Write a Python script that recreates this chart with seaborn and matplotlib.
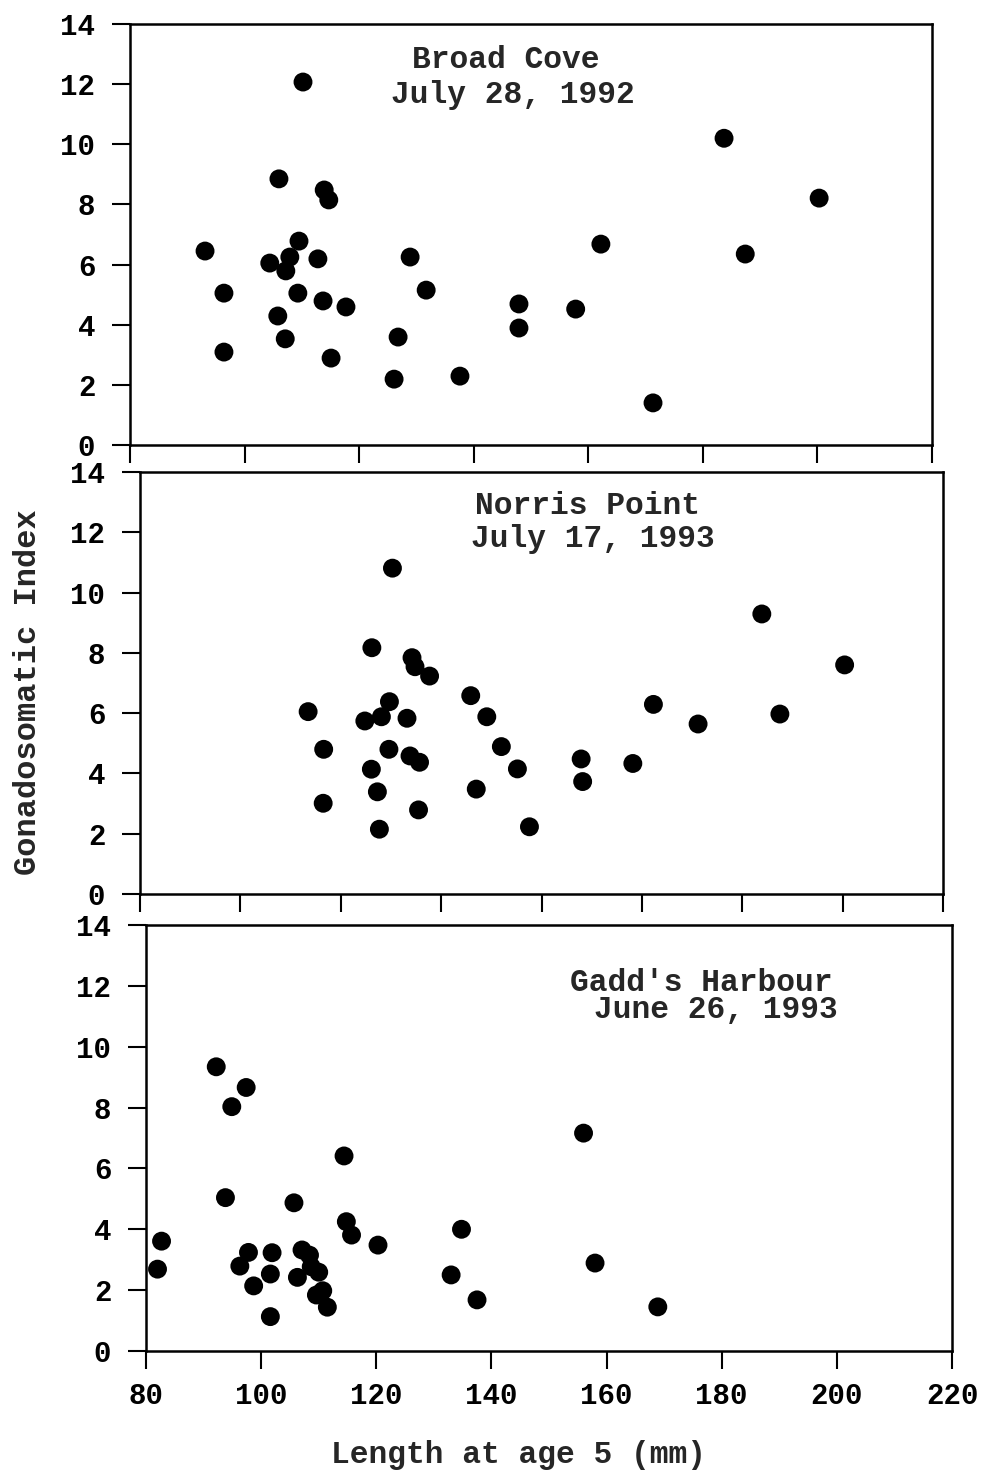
import pandas as pd
import seaborn as sns
import matplotlib.pyplot as plt

# Broad Cove, July 28, 1992
bc_len = [93.1, 96.4, 96.4, 106.0, 110.2, 104.4, 107.9, 107.2, 109.5, 112.8,
          113.9, 114.7, 109.3, 113.7, 117.7, 105.8, 107.1, 115.1, 128.9, 131.7,
          126.8, 126.1, 137.6, 147.9, 147.9, 157.8, 162.2, 171.3, 183.7, 187.4,
          200.3]
bc_gsi = [6.45, 5.05, 3.09, 8.85, 12.07, 6.05, 6.25, 5.79, 6.78, 6.19,
          8.48, 8.15, 5.05, 4.79, 4.59, 4.29, 3.53, 2.89, 6.25, 5.15,
          3.59, 2.19, 2.29, 4.69, 3.89, 4.52, 6.68, 1.40, 10.2, 6.35,
          8.21]

# Norris Point, July 17, 1993
np_len = [113.5, 116.6, 116.5, 130.3, 126.2, 134.2, 134.8, 137.7, 129.7, 124.8,
          128.1, 133.2, 129.6, 133.8, 135.7, 126.1, 127.3, 135.5, 127.7, 145.9,
          147.0, 149.1, 152.0, 155.2, 157.6, 167.9, 168.2, 178.2, 182.3, 191.2,
          203.9, 207.5, 220.4]
np_gsi = [6.05, 4.80, 3.01, 10.81, 8.17, 7.84, 7.54, 7.23, 6.38, 5.74,
          5.88, 5.83, 4.80, 4.58, 4.37, 4.14, 3.39, 2.79, 2.15, 6.58,
          3.48, 5.88, 4.89, 4.15, 2.23, 4.48, 3.73, 4.33, 6.29, 5.64,
          9.29, 5.97, 7.60]

# Gadd's Harbour, June 26, 1993
gh_len = [82.0, 82.7, 92.2, 94.9, 97.4, 93.8, 97.8, 96.3, 98.7, 101.9,
          101.6, 101.6, 105.7, 106.3, 107.1, 108.4, 108.7, 110.0, 109.6, 110.7,
          111.5, 114.4, 114.8, 115.7, 120.3, 133.0, 134.8, 137.5, 156.0, 158.0,
          168.9]
gh_gsi = [2.69, 3.61, 9.34, 8.03, 8.66, 5.04, 3.24, 2.79, 2.14, 3.23,
          2.53, 1.13, 4.87, 2.42, 3.32, 3.15, 2.77, 2.59, 1.84, 1.98,
          1.44, 6.41, 4.25, 3.81, 3.48, 2.50, 4.0, 1.68, 7.16, 2.89,
          1.45]

y_ticks = [0, 2, 4, 6, 8, 10, 12, 14]
x_ticks_short = [80, 100, 120, 140, 160, 180, 200, 220]
x_ticks_long = [80, 100, 120, 140, 160, 180, 200, 220, 240]

sns.set_style('ticks')
plt.rcParams['font.family'] = ['Liberation Mono', 'DejaVu Sans']
plt.rcParams['font.weight'] = 'bold'

W, H = 988, 1473
fig = plt.figure(figsize=(W / 100, H / 100), dpi=100)


def panel(left, right, top, bottom):
    # position given in pixels of the final picture
    return fig.add_axes([left / W, 1 - bottom / H, (right - left) / W, (bottom - top) / H])


panels = [
    (panel(130, 932, 24, 445), bc_len, bc_gsi, x_ticks_short, False),
    (panel(140, 943, 472, 894), np_len, np_gsi, x_ticks_long, False),
    (panel(146, 952, 925, 1351), gh_len, gh_gsi, x_ticks_short, True),
]

for ax, xs, ys, xt, show_x in panels:
    df = pd.DataFrame({'len': xs, 'gsi': ys})
    sns.scatterplot(data=df, x='len', y='gsi', ax=ax, color='black', s=185,
                    edgecolor='none', legend=False)
    ax.set_xlim(xt[0], xt[-1])
    ax.set_ylim(0, 14)
    ax.set_xticks(xt)
    ax.set_yticks(y_ticks)
    ax.set_xlabel('')
    ax.set_ylabel('')
    for sp in ax.spines.values():
        sp.set_linewidth(1.8)
        sp.set_color('black')
    ax.tick_params(axis='both', direction='out', length=13, width=1.5,
                   labelsize=21, colors='black')
    ax.tick_params(axis='y', pad=12)
    ax.tick_params(axis='x', pad=9)
    if not show_x:
        ax.set_xticklabels([])

# panel titles
fs = 22.5
fig.text(506 / W, 1 - 60 / H, 'Broad Cove', ha='center', va='center', fontsize=fs, fontweight='bold')
fig.text(513 / W, 1 - 95 / H, 'July 28, 1992', ha='center', va='center', fontsize=fs, fontweight='bold')
fig.text(587 / W, 1 - 506 / H, 'Norris Point', ha='center', va='center', fontsize=fs, fontweight='bold')
fig.text(593 / W, 1 - 539 / H, 'July 17, 1993', ha='center', va='center', fontsize=fs, fontweight='bold')
fig.text(701 / W, 1 - 983 / H, "Gadd's Harbour", ha='center', va='center', fontsize=fs, fontweight='bold')
fig.text(716 / W, 1 - 1010 / H, 'June 26, 1993', ha='center', va='center', fontsize=fs, fontweight='bold')

# shared axis labels
fig.text(28 / W, 1 - 692 / H, 'Gonadosomatic Index', rotation=90, ha='center', va='center',
         fontsize=23, fontweight='bold')
fig.text(518 / W, 1 - 1455 / H, 'Length at age 5 (mm)', ha='center', va='center',
         fontsize=fs, fontweight='bold')

fig.savefig('out.png', dpi=100, facecolor='white')
